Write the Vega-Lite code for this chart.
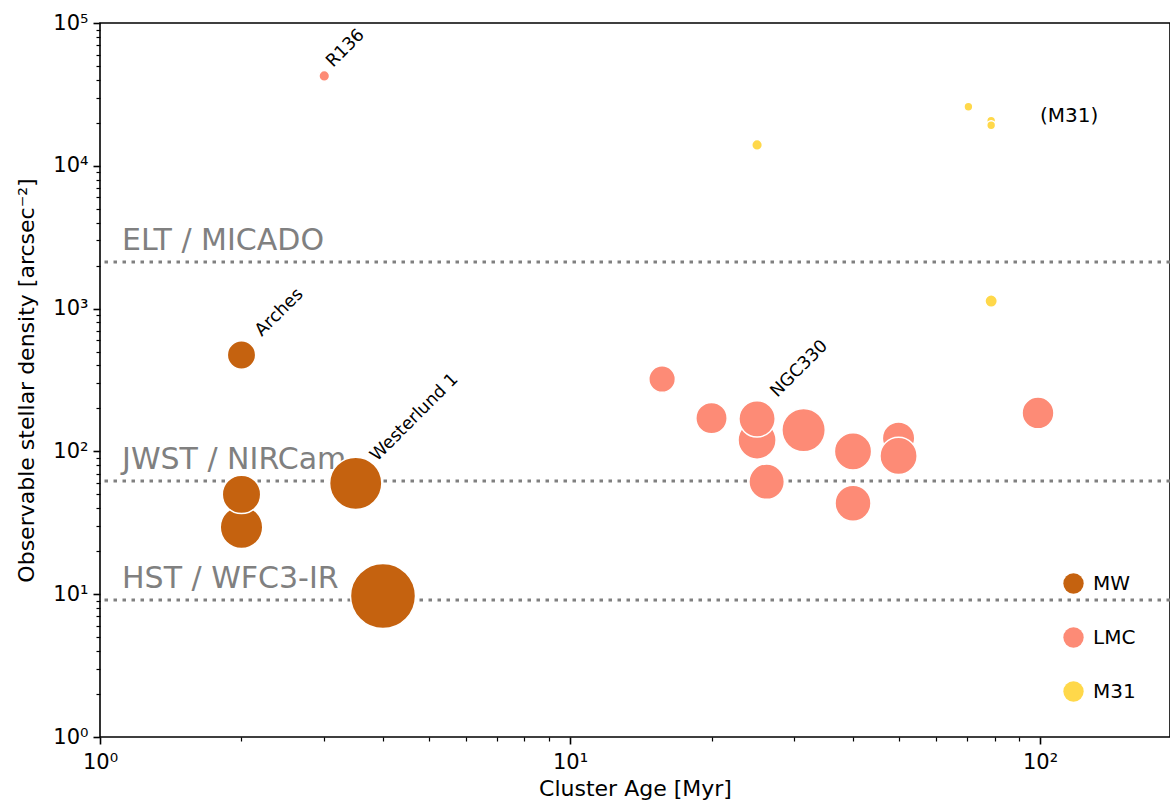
{
  "$schema": "https://vega.github.io/schema/vega-lite/v6.json",
  "width": 1070,
  "height": 714,
  "padding": {"left": 100, "top": 23, "right": 0, "bottom": 68},
  "autosize": {"type": "none"},
  "background": "white",
  "config": {
    "font": "DejaVu Sans",
    "view": {"stroke": "black", "strokeWidth": 1.6},
    "axis": {
      "grid": false,
      "domain": false,
      "tickColor": "black",
      "labelColor": "black",
      "titleColor": "black",
      "labelFont": "DejaVu Sans",
      "titleFont": "DejaVu Sans",
      "labelFontSize": 21,
      "titleFontSize": 22,
      "titleFontWeight": "normal",
      "labelOverlap": false,
      "labelFlush": false
    }
  },
  "datasets": {
    "clusters": [
      {"galaxy": "MW", "age": 2.0, "density": 473, "mass": 256},
      {"galaxy": "MW", "age": 2.0, "density": 29.4, "mass": 576},
      {"galaxy": "MW", "age": 2.0, "density": 50, "mass": 470},
      {"galaxy": "MW", "age": 3.5, "density": 59.8, "mass": 870},
      {"galaxy": "MW", "age": 4.0, "density": 9.7, "mass": 1347},
      {"galaxy": "LMC", "age": 3.0, "density": 42600, "mass": 36},
      {"galaxy": "LMC", "age": 15.7, "density": 321, "mass": 225},
      {"galaxy": "LMC", "age": 20, "density": 171, "mass": 313},
      {"galaxy": "LMC", "age": 25, "density": 120, "mass": 462},
      {"galaxy": "LMC", "age": 25, "density": 169, "mass": 420},
      {"galaxy": "LMC", "age": 31.4, "density": 141, "mass": 600},
      {"galaxy": "LMC", "age": 26.2, "density": 61.4, "mass": 400},
      {"galaxy": "LMC", "age": 40, "density": 100, "mass": 441},
      {"galaxy": "LMC", "age": 40, "density": 43.3, "mass": 412},
      {"galaxy": "LMC", "age": 50, "density": 123.5, "mass": 335},
      {"galaxy": "LMC", "age": 50, "density": 92.9, "mass": 441},
      {"galaxy": "LMC", "age": 99, "density": 186, "mass": 324},
      {"galaxy": "M31", "age": 25, "density": 14000, "mass": 36},
      {"galaxy": "M31", "age": 70.4, "density": 25900, "mass": 25},
      {"galaxy": "M31", "age": 78.7, "density": 20700, "mass": 25},
      {"galaxy": "M31", "age": 78.7, "density": 19220, "mass": 25},
      {"galaxy": "M31", "age": 78.7, "density": 1130, "mass": 49}
    ],
    "limits": [
      {"instrument": "ELT / MICADO", "age": 1.114, "density": 2120},
      {"instrument": "JWST / NIRCam", "age": 1.114, "density": 62},
      {"instrument": "HST / WFC3-IR", "age": 1.114, "density": 9.1}
    ],
    "annotations": [
      {"label": "R136", "age": 3.13, "density": 48400},
      {"label": "Arches", "age": 2.21, "density": 632},
      {"label": "Westerlund 1", "age": 3.885, "density": 84.3},
      {"label": "NGC330", "age": 27.6, "density": 236.6}
    ],
    "groups": [
      {"label": "(M31)", "age": 100, "density": 22300}
    ]
  },
  "layer": [
    {
      "data": {"name": "limits"},
      "mark": {"type": "rule", "color": "#808080", "strokeWidth": 3, "strokeDash": [3.5, 5.5]},
      "encoding": {
        "y": {"field": "density", "type": "quantitative", "scale": {"type": "log", "domain": [1, 100000], "nice": false}}
      }
    },
    {
      "data": {"name": "limits"},
      "mark": {"type": "text", "color": "#808080", "fontSize": 30, "align": "left", "baseline": "alphabetic", "dy": -12, "font": "DejaVu Sans"},
      "encoding": {
        "x": {"field": "age", "type": "quantitative", "scale": {"type": "log", "domain": [1, 189], "nice": false}},
        "y": {"field": "density", "type": "quantitative", "scale": {"type": "log", "domain": [1, 100000], "nice": false}},
        "text": {"field": "instrument"}
      }
    },
    {
      "data": {"name": "clusters"},
      "mark": {"type": "point", "shape": "circle", "filled": true, "opacity": 1, "stroke": "white", "strokeWidth": 1.5},
      "encoding": {
        "x": {
          "field": "age", "type": "quantitative",
          "scale": {"type": "log", "domain": [1, 189], "nice": false},
          "axis": {
            "title": "Cluster Age [Myr]",
            "values": [1, 2, 3, 4, 5, 6, 7, 8, 9, 10, 20, 30, 40, 50, 60, 70, 80, 90, 100],
            "labelExpr": "abs(log(datum.value)/LN10 - round(log(datum.value)/LN10)) < 0.001 ? '10' + ['⁰','¹','²','³','⁴','⁵'][round(log(datum.value)/LN10)] : ''",
            "tickSize": {"condition": {"test": "abs(log(datum.value)/LN10 - round(log(datum.value)/LN10)) < 0.001", "value": 7}, "value": 4},
            "tickWidth": {"condition": {"test": "abs(log(datum.value)/LN10 - round(log(datum.value)/LN10)) < 0.001", "value": 1.6}, "value": 1.2},
            "labelPadding": 7,
            "titlePadding": 6
          }
        },
        "y": {
          "field": "density", "type": "quantitative",
          "scale": {"type": "log", "domain": [1, 100000], "nice": false},
          "axis": {
            "title": "Observable stellar density [arcsec⁻²]",
            "values": [1, 2, 3, 4, 5, 6, 7, 8, 9, 10, 20, 30, 40, 50, 60, 70, 80, 90, 100, 200, 300, 400, 500, 600, 700, 800, 900, 1000, 2000, 3000, 4000, 5000, 6000, 7000, 8000, 9000, 10000, 20000, 30000, 40000, 50000, 60000, 70000, 80000, 90000, 100000],
            "labelExpr": "abs(log(datum.value)/LN10 - round(log(datum.value)/LN10)) < 0.001 ? '10' + ['⁰','¹','²','³','⁴','⁵'][round(log(datum.value)/LN10)] : ''",
            "tickSize": {"condition": {"test": "abs(log(datum.value)/LN10 - round(log(datum.value)/LN10)) < 0.001", "value": 7}, "value": 4},
            "tickWidth": {"condition": {"test": "abs(log(datum.value)/LN10 - round(log(datum.value)/LN10)) < 0.001", "value": 1.6}, "value": 1.2},
            "labelPadding": 5,
            "titlePadding": 14
          }
        },
        "color": {
          "field": "galaxy", "type": "nominal",
          "scale": {"domain": ["MW", "LMC", "M31"], "range": ["#C5620F", "#FD8B76", "#FFD84A"]},
          "legend": {
            "orient": "none", "legendX": 963, "legendY": 550, "title": null,
            "symbolType": "circle", "symbolSize": 415, "symbolOpacity": 1, "symbolStrokeWidth": 0,
            "labelFontSize": 20, "labelFont": "DejaVu Sans", "labelColor": "black",
            "rowPadding": 33, "labelOffset": 9, "padding": 0
          }
        },
        "size": {
          "field": "mass", "type": "quantitative",
          "scale": {"type": "linear", "domain": [0, 1000], "range": [0, 3141.6]},
          "legend": null
        }
      }
    },
    {
      "data": {"name": "annotations"},
      "mark": {"type": "text", "color": "black", "fontSize": 17.5, "angle": -45, "align": "left", "baseline": "alphabetic", "font": "DejaVu Sans"},
      "encoding": {
        "x": {"field": "age", "type": "quantitative", "scale": {"type": "log", "domain": [1, 189], "nice": false}},
        "y": {"field": "density", "type": "quantitative", "scale": {"type": "log", "domain": [1, 100000], "nice": false}},
        "text": {"field": "label"}
      }
    },
    {
      "data": {"name": "groups"},
      "mark": {"type": "text", "color": "black", "fontSize": 20, "align": "left", "baseline": "middle", "font": "DejaVu Sans"},
      "encoding": {
        "x": {"field": "age", "type": "quantitative", "scale": {"type": "log", "domain": [1, 189], "nice": false}},
        "y": {"field": "density", "type": "quantitative", "scale": {"type": "log", "domain": [1, 100000], "nice": false}},
        "text": {"field": "label"}
      }
    }
  ]
}
